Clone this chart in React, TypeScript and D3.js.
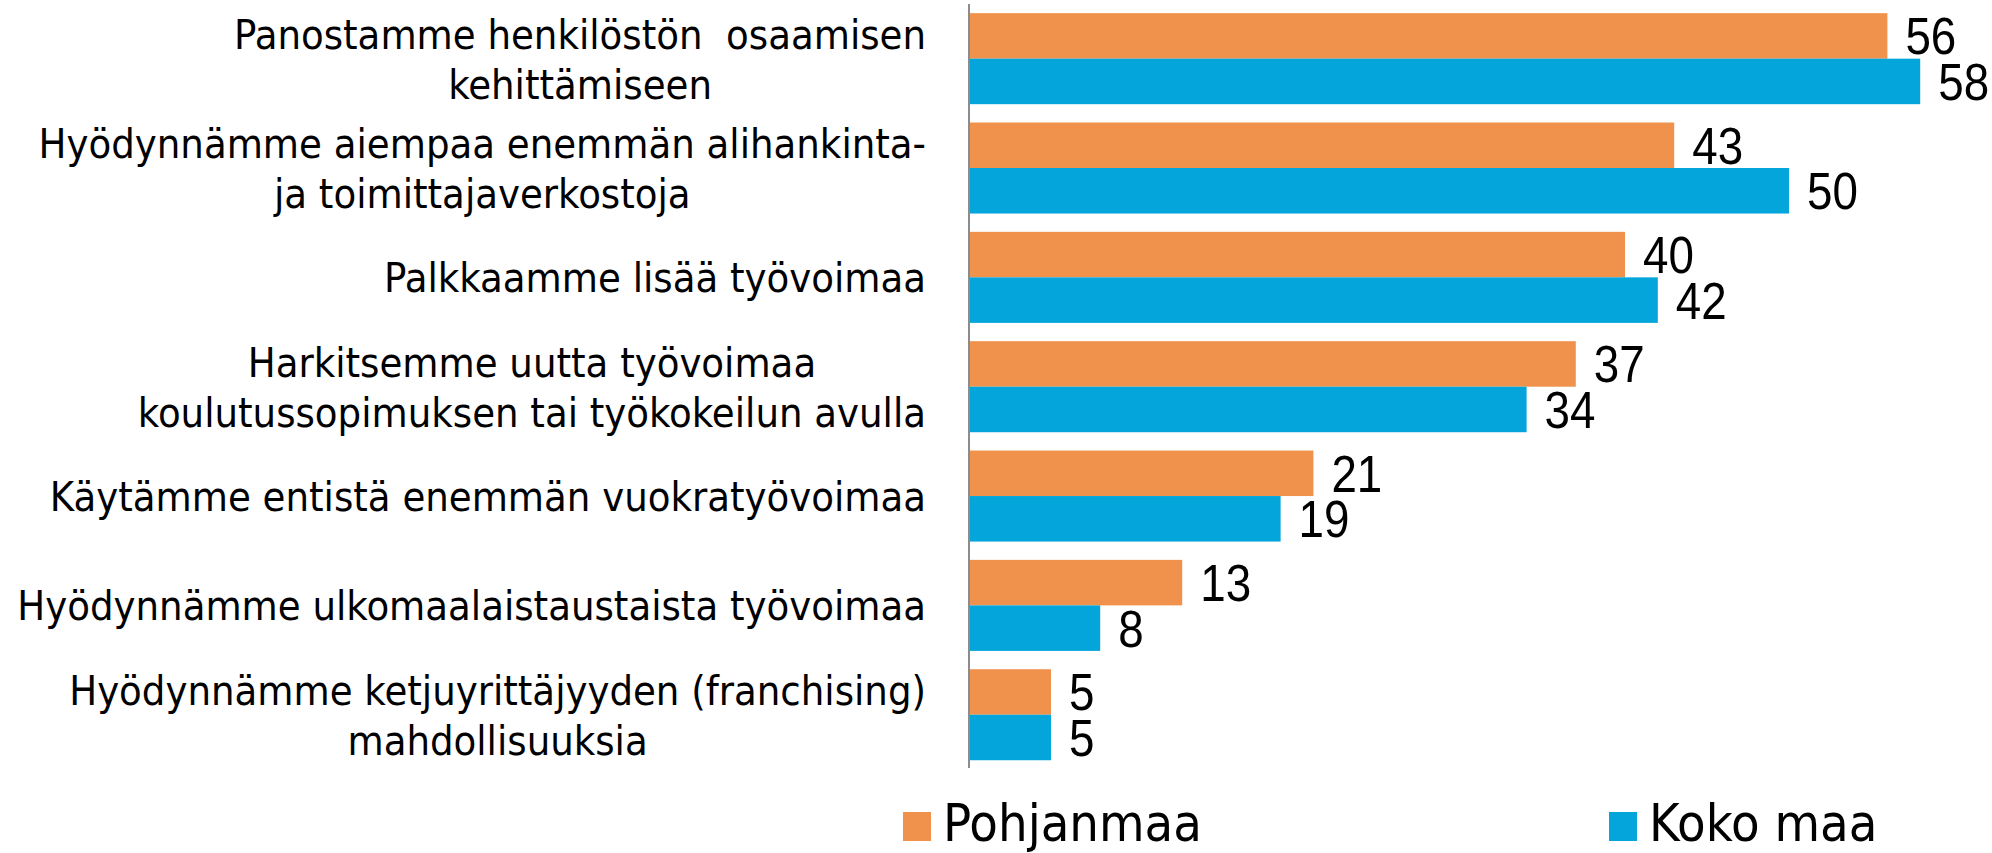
import React, { useEffect, useRef } from "react";
import * as d3 from "d3";

const categories: string[][] = [
  ["Panostamme henkilöstön\u00a0 osaamisen", "kehittämiseen"],
  ["Hyödynnämme aiempaa enemmän alihankinta-", "ja toimittajaverkostoja"],
  ["Palkkaamme lisää työvoimaa"],
  ["Harkitsemme uutta työvoimaa", "koulutussopimuksen tai työkokeilun avulla"],
  ["Käytämme entistä enemmän vuokratyövoimaa"],
  ["Hyödynnämme ulkomaalaistaustaista työvoimaa"],
  ["Hyödynnämme ketjuyrittäjyyden (franchising)", "mahdollisuuksia"],
];
const seriesNames = ["Pohjanmaa", "Koko maa"];
const pohjanmaa = [56, 43, 40, 37, 21, 13, 5];
const kokoMaa = [58, 50, 42, 34, 19, 8, 5];
const seriesColors = ["#F0924B", "#03A5DA"];

const W = 1992;
const H = 853;
const LABEL_RIGHT = 926;
const CAT_FONT = 41.3;
const LINE_GAP = 50;

export default function App() {
  const ref = useRef<SVGSVGElement | null>(null);

  const keys = categories.map((_, i) => String(i));
  const y = d3.scaleBand<string>().domain(keys).range([4, 769.4]).paddingInner(0.1675).paddingOuter(0.08375);
  const ySub = d3.scaleBand<string>().domain(seriesNames).range([0, y.bandwidth()]);
  const x = d3.scaleLinear().domain([0, 60]).range([969, 969 + 60 * 16.4]);
  const values = [pohjanmaa, kokoMaa];

  useEffect(() => {
    if (!ref.current) return;
    const svg = d3.select(ref.current);
    svg.selectAll<SVGTextElement, unknown>("text.cat").each(function () {
      const t = d3.select(this);
      let maxW = 0;
      t.selectAll<SVGTSpanElement, unknown>("tspan").each(function () {
        maxW = Math.max(maxW, this.getComputedTextLength());
      });
      const cx = LABEL_RIGHT - maxW / 2;
      t.selectAll("tspan").attr("x", cx);
    });
  }, []);

  const capHalf = (CAT_FONT * 0.729) / 2;

  return (
    <svg
      ref={ref}
      width={W}
      height={H}
      style={{ position: "absolute", left: 0, top: 0, background: "#fff" }}
    >
      {/* bars */}
      {keys.map((k, i) => (
        <g key={k}>
          {seriesNames.map((s, si) => {
            const v = values[si][i];
            const by = (y(k) as number) + (ySub(s) as number);
            const bh = ySub.bandwidth();
            return (
              <g key={s}>
                <rect x={x(0)} y={by} width={x(v) - x(0)} height={bh} fill={seriesColors[si]} />
                <text
                  transform={`translate(${x(v) + 18},${by + bh / 2 + 18.5}) scale(0.88,1)`}
                  fontFamily="'Liberation Sans', Arial, sans-serif"
                  fontSize={52}
                  fill="#000"
                >
                  {v}
                </text>
              </g>
            );
          })}
        </g>
      ))}
      {/* axis line */}
      <line x1={969} x2={969} y1={4} y2={768} stroke="#8C8C8C" strokeWidth={2} />
      {/* category labels */}
      {categories.map((lines, i) => {
        const cy = (y(String(i)) as number) + y.bandwidth() / 2;
        const n = lines.length;
        return (
          <text
            key={i}
            className="cat"
            textAnchor="middle"
            fontFamily="'DejaVu Sans Condensed', 'DejaVu Sans', sans-serif"
            fontSize={CAT_FONT}
            fill="#000"
          >
            {lines.map((ln, li) => (
              <tspan key={li} x={LABEL_RIGHT - 300} y={cy + (li - (n - 1) / 2) * LINE_GAP + capHalf}>
                {ln}
              </tspan>
            ))}
          </text>
        );
      })}
      {/* legend */}
      {seriesNames.map((s, si) => {
        const lx = si === 0 ? 903 : 1609;
        return (
          <g key={s}>
            <rect x={lx} y={812} width={28} height={29} fill={seriesColors[si]} />
            <text
              x={lx + 40}
              y={841}
              fontFamily="'DejaVu Sans Condensed', 'DejaVu Sans', sans-serif"
              fontSize={52}
              fill="#000"
            >
              {s}
            </text>
          </g>
        );
      })}
    </svg>
  );
}
